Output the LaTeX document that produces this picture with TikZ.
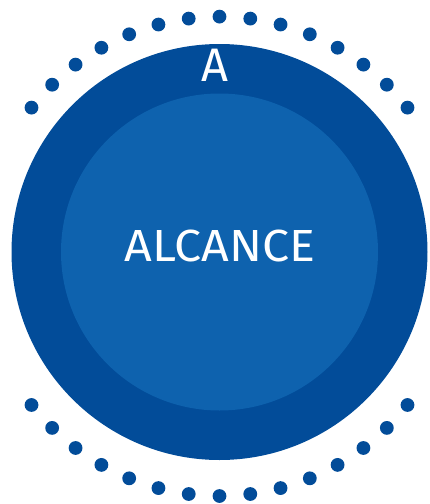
\documentclass[tikz,border=0pt]{standalone}
\usepackage{fontspec}
\setmainfont{Fira Sans}
\usetikzlibrary{calc}
\definecolor{outerblue}{HTML}{024C99}
\definecolor{innerblue}{HTML}{0E62AE}
\tikzset{
  ring/.style={circle, fill=outerblue, inner sep=0pt, minimum size=416pt},
  core/.style={circle, fill=innerblue, inner sep=0pt, minimum size=317pt},
  dotmark/.style={circle, fill=outerblue, inner sep=0pt, minimum size=13.8pt},
  label/.style={text=white, inner sep=0pt}
}
\begin{document}
\begin{tikzpicture}[x=1pt,y=-1pt]
\useasboundingbox (0,0) rectangle (429,504);
\node[ring] (outer) at (219.5,252) {};
\node[core] (inner) at (219.5,252) {};
\coordinate (dc) at (219.5,256.3);
\foreach \k in {-7,...,7}{
  \node[dotmark] (top\k) at ($(dc)+({90+7.38*\k}:239.7pt)$) {};
  \node[dotmark] (bot\k) at ($(dc)+({270+7.38*\k}:239.7pt)$) {};
}
\node[label, xscale=1.075, font=\fontsize{45}{45}\selectfont] (alcance) at (220,245.5) {ALCANCE};
\node[label, font=\fontsize{47}{47}\selectfont] (letra) at (215,65.3) {A};
\end{tikzpicture}
\end{document}
